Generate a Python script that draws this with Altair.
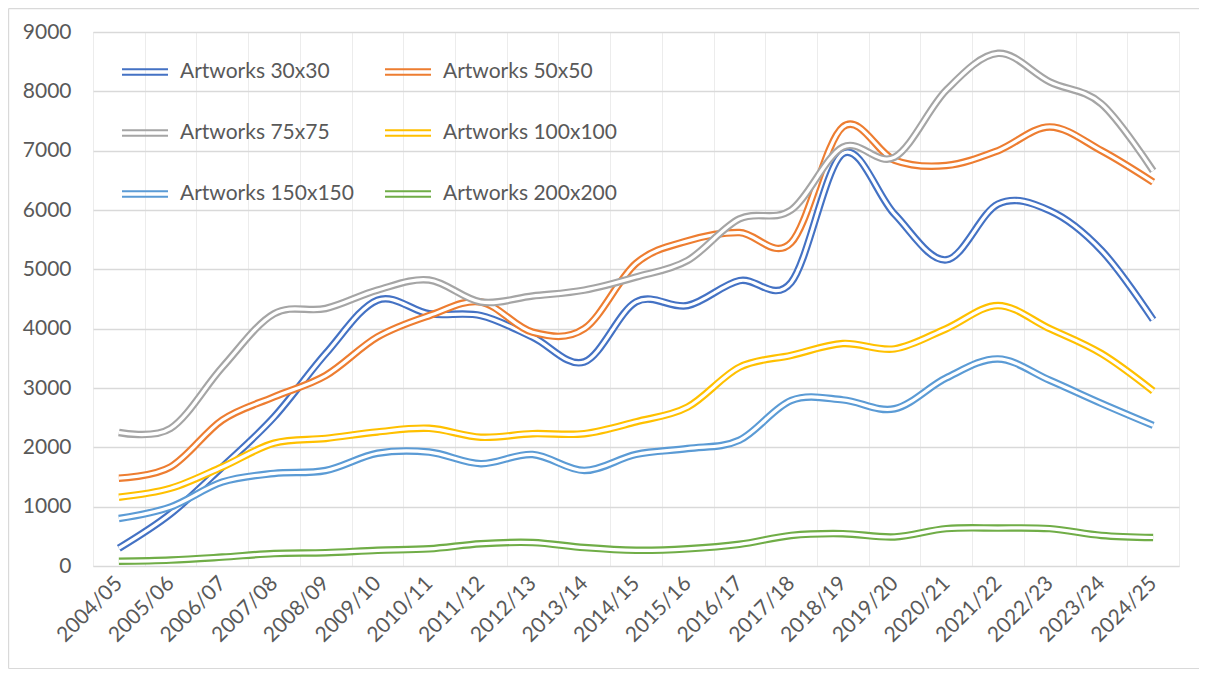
import altair as alt
import pandas as pd

seasons = ["2004/05", "2005/06", "2006/07", "2007/08", "2008/09", "2009/10", "2010/11",
           "2011/12", "2012/13", "2013/14", "2014/15", "2015/16", "2016/17", "2017/18",
           "2018/19", "2019/20", "2020/21", "2021/22", "2022/23", "2023/24", "2024/25"]

series_names = ["Artworks 30x30", "Artworks 50x50", "Artworks 75x75",
                "Artworks 100x100", "Artworks 150x150", "Artworks 200x200"]
series_colors = ["#4472C4", "#ED7D31", "#A5A5A5", "#FFC000", "#5B9BD5", "#70AD47"]

a30 = [300, 880, 1670, 2510, 3580, 4480, 4250, 4220, 3860, 3440, 4450, 4390, 4810, 4780,
       6950, 5930, 5160, 6100, 5990, 5320, 4150]
a50 = [1480, 1670, 2460, 2850, 3210, 3860, 4220, 4450, 3940, 4000, 5100, 5480, 5620, 5450,
       7400, 6840, 6750, 7000, 7400, 7000, 6470]
a75 = [2250, 2320, 3350, 4250, 4340, 4650, 4820, 4450, 4550, 4650, 4870, 5150, 5850, 6000,
       7060, 6890, 8020, 8640, 8160, 7790, 6660]
a100 = [1160, 1310, 1670, 2070, 2150, 2260, 2320, 2170, 2230, 2230, 2430, 2680, 3350, 3550,
        3750, 3660, 4000, 4390, 4000, 3580, 2950]
a150 = [800, 995, 1415, 1560, 1610, 1900, 1920, 1725, 1880, 1610, 1880, 1980, 2120, 2790,
        2800, 2650, 3170, 3490, 3130, 2740, 2370]
a200 = [80, 100, 150, 210, 225, 265, 290, 375, 395, 310, 265, 290, 365, 515,
        545, 490, 630, 640, 630, 515, 480]

y_ticks = [0, 1000, 2000, 3000, 4000, 5000, 6000, 7000, 8000, 9000]

all_values = [a30, a50, a75, a100, a150, a200]
rows = []
for name, vals in zip(series_names, all_values):
    for s, v in zip(seasons, vals):
        rows.append({"season": s, "series": name, "value": v})
df = pd.DataFrame(rows)

FONT = "Lato"
TEXT = "#595959"
FS = 21

x_enc = alt.X(
    "season:N", sort=seasons,
    scale=alt.Scale(type="band", paddingInner=0, paddingOuter=0),
    bandPosition=0.5,
    axis=alt.Axis(title=None, tickBand="extent", grid=True, gridColor="#ececec",
                  gridWidth=1, ticks=False, domain=False, labelAngle=-45,
                  labelAlign="right", labelBaseline="middle", labelPadding=14,
                  labelFont=FONT, labelFontSize=FS, labelColor=TEXT),
)
y_enc = alt.Y(
    "value:Q",
    scale=alt.Scale(domain=[0, 9000], nice=False),
    axis=alt.Axis(title=None, values=y_ticks, format="d", grid=True, gridColor="#d9d9d9",
                  gridWidth=1.3, ticks=False, domain=False, labelPadding=22,
                  labelFont=FONT, labelFontSize=FS, labelColor=TEXT),
)

color_enc = alt.Color(
    "series:N", sort=series_names,
    scale=alt.Scale(domain=series_names, range=series_colors),
    legend=alt.Legend(
        title=None, orient="none", legendX=28, legendY=16, columns=2,
        direction="horizontal",
        symbolType="M-1,-0.12L1,-0.12M-1,0.12L1,0.12",
        symbolSize=2116, symbolStrokeWidth=2, symbolFillColor="transparent",
        labelFont=FONT, labelFontSize=FS, labelColor=TEXT, labelOffset=11,
        rowPadding=27, columnPadding=27, labelLimit=300,
    ),
)

layers = []
for name in series_names:
    base = alt.Chart(df).transform_filter(alt.datum.series == name)
    outer = base.mark_line(strokeWidth=7.5, interpolate="cardinal").encode(
        x=x_enc, y=y_enc, color=color_enc)
    inner = base.mark_line(strokeWidth=3.2, interpolate="cardinal", color="white").encode(
        x=x_enc, y=y_enc)
    layers += [outer, inner]

# outer chart-area border (decorative frame), kept inside the SVG viewport
fdata = pd.DataFrame({"k": [0]})
fstyle = dict(color="#d9d9d9", strokeWidth=1.2)
L, T, R, B = -84.4, -23.4, 1120, 636.5
frame = [
    alt.Chart(fdata).mark_rule(**fstyle).encode(
        x=alt.value(L), x2=alt.value(R), y=alt.value(T), y2=alt.value(T)),
    alt.Chart(fdata).mark_rule(**fstyle).encode(
        x=alt.value(L), x2=alt.value(R), y=alt.value(B), y2=alt.value(B)),
    alt.Chart(fdata).mark_rule(**fstyle).encode(
        x=alt.value(L), x2=alt.value(L), y=alt.value(T), y2=alt.value(B)),
]

chart = alt.layer(*layers, *frame).properties(
    width=1086, height=534,
    autosize=alt.AutoSizeParams(type="none"),
    padding={"left": 85, "top": 24, "right": 20, "bottom": 103},
).configure_view(stroke="#ececec").configure(background="white")

chart.save("out.html", embed_options={"renderer": "svg", "actions": False})
